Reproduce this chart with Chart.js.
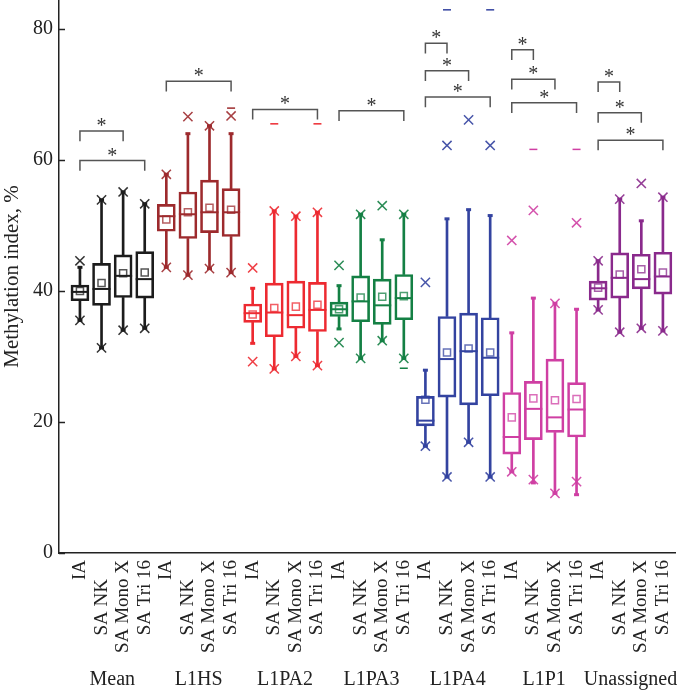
<!DOCTYPE html>
<html><head><meta charset="utf-8">
<script src="https://cdn.jsdelivr.net/npm/chart.js@4.4.1/dist/chart.umd.min.js"></script>
<style>html,body{margin:0;padding:0;background:#fff}canvas{display:block}</style>
</head><body>
<canvas id="c" width="685" height="693"></canvas>
<script>
const groups = ['Mean','L1HS','L1PA2','L1PA3','L1PA4','L1P1','Unassigned'];
const conditions = ['IA','SA NK','SA Mono X','SA Tri 16'];
const groupColors = ['#1c1c1c','#9d2a2d','#ed2a31','#148044','#3343a0','#cf3fa3','#8a2a8c'];
const yTickValues = [0,20,40,60,80];

// box statistics, 4 values per group in the order of `conditions`
const whiskerLow  = [35.5,31.3,34.0,34.3, 43.6,42.4,43.4,42.8, 32.0,28.1,30.0,28.6, 34.2,29.7,32.4,29.7, 16.3,11.6,16.9,11.6, 12.4,10.7,9.1,8.9, 37.1,33.7,34.3,33.9];
const q1          = [38.5,37.8,39.0,38.9, 49.1,48.0,48.9,48.3, 35.2,33.0,34.3,33.8, 36.1,35.3,34.9,35.6, 19.4,23.8,22.6,24.0, 15.1,17.3,18.4,17.7, 38.6,38.9,40.3,39.5];
const median      = [39.85,40.3,42.3,41.8, 51.4,51.7,52.0,52.0, 36.6,36.7,36.3,37.1, 37.2,38.4,37.8,38.9, 20.2,29.6,30.8,29.8, 17.7,22.0,20.7,21.9, 40.4,42.0,41.8,42.2];
const q3          = [40.9,44.2,45.5,46.0, 53.2,55.1,56.9,55.6, 38.0,41.2,41.5,41.3, 38.3,42.3,41.8,42.5, 23.9,36.1,36.6,35.9, 24.5,26.2,29.6,26.0, 41.5,45.8,45.6,45.9];
const whiskerHigh = [43.6,53.9,55.1,53.3, 57.8,64.0,65.2,64.0, 40.4,52.2,51.4,52.0, 40.8,51.7,47.8,51.7, 27.9,51.0,52.4,51.5, 33.6,38.9,38.1,37.2, 44.6,54.0,50.7,54.3];
const means       = [40.0,41.2,42.7,42.8, 50.9,52.0,52.7,52.4, 36.4,37.4,37.6,37.9, 37.2,39.0,39.1,39.2, 23.4,30.6,31.2,30.6, 20.7,23.6,23.3,23.5, 40.5,42.5,43.3,42.8];
const pct1        = [35.5,31.3,34.0,34.3, 43.6,42.4,43.4,42.8, 29.2,28.1,30.0,28.6, 32.1,29.7,32.4,29.7, 16.3,11.6,16.9,11.6, 12.4,11.2,9.1,10.9, 37.1,33.7,34.3,33.9];
const pct99       = [44.6,53.9,55.1,53.3, 57.8,66.6,65.2,66.7, 43.5,52.2,51.4,52.0, 43.9,51.7,53.0,51.7, 41.3,62.2,66.1,62.2, 47.7,52.3,38.1,50.4, 44.6,54.0,56.4,54.3];
const minValue    = [null,null,null,null, null,null,null,null, null,null,null,null, null,null,null,28.2, null,null,null,null, null,null,null,null, null,null,null,null];
const maxValue    = [null,null,null,null, null,null,null,67.9, null,65.5,null,65.5, null,null,null,null, null,82.9,null,82.9, null,61.6,null,61.6, null,null,null,null];

// significance brackets: [from index, to index, level]
const brackets = [[0,2,64.4],[0,3,59.9],[4,7,72.0],[8,11,67.7],[12,15,67.5],
  [16,17,77.8],[16,18,73.6],[16,19,69.6],[20,21,76.8],[20,22,72.3],[20,23,68.7],
  [24,25,71.9],[24,26,67.2],[24,27,63.0]];

const n = groups.length*conditions.length;
const idx = Array.from({length:n},(_,i)=>i);
const colors = idx.map(i=>groupColors[Math.floor(i/4)]);
function alpha(hex,a){const r=parseInt(hex.slice(1,3),16),g=parseInt(hex.slice(3,5),16),b=parseInt(hex.slice(5,7),16);return `rgba(${r},${g},${b},${a})`;}
const pts = arr => idx.filter(i=>arr[i]!=null).map(i=>({x:i,y:arr[i]}));
const ptsColors = arr => idx.filter(i=>arr[i]!=null).map(i=>colors[i]);
const serif = "'Liberation Serif','Times New Roman',serif";
const LEG = 1.55;

const datasets = [
  {type:'bar', data: idx.map(i=>({x:i,y:[whiskerLow[i],q1[i]]})), backgroundColor:colors, borderWidth:0, barThickness:2, grouped:false, order:5},
  {type:'bar', data: idx.map(i=>({x:i,y:[q3[i],whiskerHigh[i]]})), backgroundColor:colors, borderWidth:0, barThickness:2, grouped:false, order:5},
  {type:'bar', data: idx.map(i=>({x:i,y:[q1[i],q3[i]]})), backgroundColor:'rgba(0,0,0,0)', borderColor:colors, borderWidth:2, borderSkipped:false, barThickness:18, grouped:false, order:4},
  {type:'line', showLine:false, data: idx.map(i=>({x:i,y:median[i]})), pointStyle:'line', pointRadius:9, pointBorderWidth:2, pointBorderColor:colors, order:3},
  {type:'line', showLine:false, data: idx.map(i=>({x:i,y:means[i]})), pointStyle:'rect', pointRadius:5, pointBorderWidth:1.5, pointBackgroundColor:'rgba(0,0,0,0)', pointBorderColor:colors.map(c=>alpha(c,0.75)), order:3},
  {type:'line', showLine:false, data: idx.map(i=>({x:i,y:whiskerLow[i]})).concat(idx.map(i=>({x:i,y:whiskerHigh[i]}))), pointStyle:'line', pointRadius:2.5, pointBorderWidth:3, pointBorderColor:colors.concat(colors), order:2},
  {type:'line', showLine:false, data: idx.map(i=>({x:i,y:pct1[i]})).concat(idx.map(i=>({x:i,y:pct99[i]}))), pointStyle:'crossRot', pointRadius:6.5, pointBorderWidth:1.5, pointBorderColor:colors.concat(colors).map(c=>alpha(c,0.9)), order:2},
  {type:'line', showLine:false, data: pts(minValue).concat(pts(maxValue)), pointStyle:'line', pointRadius:4, pointBorderWidth:1.5, pointBorderColor:ptsColors(minValue).concat(ptsColors(maxValue)), order:2},
];
brackets.forEach(([a,b,y])=>{
  datasets.push({type:'line', data:[{x:a,y:y-LEG},{x:a,y:y},{x:b,y:y},{x:b,y:y-LEG}], borderColor:'#555', borderWidth:1.5, pointRadius:0, tension:0, fill:false, order:1});
});

const extras = {
  id:'extras',
  afterDraw(chart){
    const ctx = chart.ctx, xs = chart.scales.x, ys = chart.scales.y;
    ctx.save();
    // inward y ticks
    ctx.strokeStyle = '#222'; ctx.lineWidth = 1.5;
    yTickValues.forEach(v=>{const p=Math.round(ys.getPixelForValue(v))+0.5; ctx.beginPath(); ctx.moveTo(xs.left, p); ctx.lineTo(xs.left+6, p); ctx.stroke();});
    // stars on brackets
    ctx.fillStyle = '#333'; ctx.font = `20px ${serif}`; ctx.textAlign = 'center'; ctx.textBaseline = 'alphabetic';
    brackets.forEach(([a,b,y])=>{ctx.fillText('*', xs.getPixelForValue((a+b)/2), ys.getPixelForValue(y)+1);});
    // group labels
    ctx.fillStyle = '#222'; ctx.font = `20px ${serif}`; ctx.textBaseline = 'middle';
    groups.forEach((g,k)=>{ctx.fillText(g, xs.getPixelForValue(k*4+1.5), 680);});
    ctx.restore();
  }
};

new Chart(document.getElementById('c'), {
  type:'bar',
  data:{datasets},
  options:{
    responsive:false, animation:false,
    layout:{autoPadding:false, padding:{left:0,right:10,top:0,bottom:0}},
    plugins:{legend:{display:false}, tooltip:{enabled:false}},
    scales:{
      x:{type:'linear', min:-0.97, max:27.56, offset:false,
         grid:{display:false, drawTicks:false},
         border:{display:true, color:'#222', width:1.5},
         afterBuildTicks:s=>{s.ticks = idx.map(i=>({value:i}));},
         afterFit:s=>{s.height = 140; s.paddingLeft=0; s.paddingRight=0;},
         ticks:{autoSkip:false, minRotation:90, maxRotation:90, padding:7, color:'#222', font:{family:serif, size:19},
           callback:v=>{const c=conditions[v%4]; return c==='SA NK' ? c+'    ' : c;}}},
      y:{min:0, max:84.4,
         grid:{display:false, drawTicks:false},
         border:{display:true, color:'#222', width:1.5},
         afterBuildTicks:s=>{s.ticks = yTickValues.map(v=>({value:v}));},
         afterFit:s=>{s.width = 59; s.paddingTop=0; s.paddingBottom=0;},
         ticks:{padding:6, color:'#222', font:{family:serif, size:20}},
         title:{display:true, text:'Methylation index, %', color:'#222', font:{family:serif, size:21}, padding:{top:0,bottom:0}}}
    }
  },
  plugins:[extras]
});
</script>
</body></html>
